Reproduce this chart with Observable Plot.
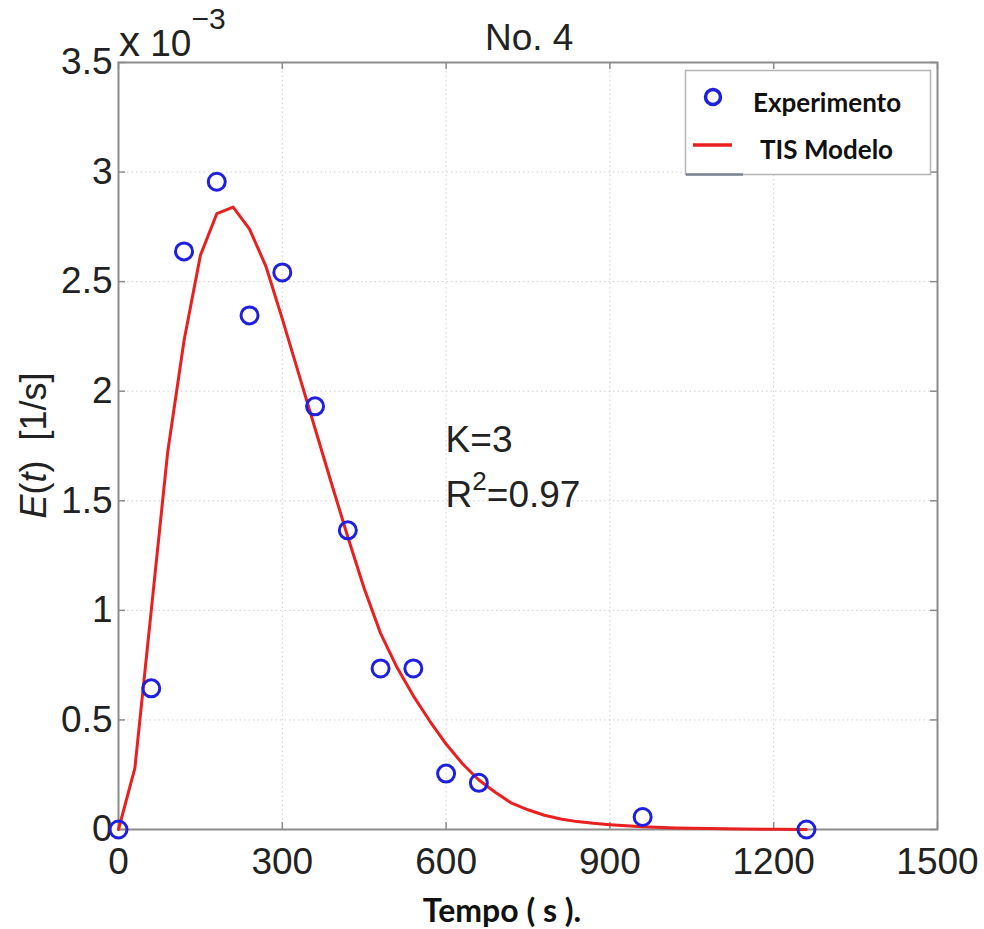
<!DOCTYPE html>
<html><head><meta charset="utf-8">
<script src="https://cdn.jsdelivr.net/npm/d3@7"></script>
<script src="https://cdn.jsdelivr.net/npm/@observablehq/plot@0.6"></script>
<style>body{margin:0;background:#fff}</style>
</head><body><div id="chart"></div>
<script>
// Experimental points (time in s, E(t) in units of 1e-3 1/s)
const expTime = [0, 60, 120, 180, 240, 300, 360, 420, 480, 540, 600, 660, 960, 1260];
const expE = [0, 0.644, 2.638, 2.956, 2.346, 2.542, 1.931, 1.365, 0.735, 0.735, 0.255, 0.213, 0.057, 0];
// TIS model curve
const modelTime = [0, 30, 60, 90, 120, 150, 180, 210, 240, 270, 300, 330, 360, 390, 420, 450, 480, 510, 540, 570, 600, 630, 660, 690, 720, 750, 780, 810, 840, 870, 900, 960, 1020, 1080, 1140, 1200, 1260];
const modelE = [0, 0.28, 1.0, 1.72, 2.23, 2.62, 2.81, 2.84, 2.74, 2.57, 2.33, 2.08, 1.83, 1.58, 1.335, 1.10, 0.895, 0.74, 0.61, 0.495, 0.39, 0.30, 0.226, 0.17, 0.12, 0.09, 0.065, 0.048, 0.036, 0.028, 0.022, 0.013, 0.007, 0.004, 0.002, 0.001, 0];
const xTicks = [0, 300, 600, 900, 1200, 1500];
const yTicks = [0, 0.5, 1, 1.5, 2, 2.5, 3, 3.5];
const seriesNames = ["Experimento", "TIS Modelo"];
const titleText = "No. 4";
const xLabel = "Tempo ( s ).";
const annotK = "K=3";
const annotR2 = "0.97";

const expData = expTime.map((t, i) => ({t, e: expE[i]}));
const modelData = modelTime.map((t, i) => ({t, e: modelE[i]}));

const W = 984, H = 929, mL = 118, mR = 47, mT = 62, mB = 100;
const plotH = H - mT - mB, plotW = W - mL - mR;
const FONT = "'Liberation Sans', Arial, Helvetica, sans-serif";
const BOLDF = "Lato, 'Open Sans', sans-serif";
const BLUE = "#1f1fe0", RED = "#e8201f", AXC = "#8c8c8c", TXT = "#222222";

const chart = Plot.plot({
  width: W, height: H,
  marginLeft: mL, marginRight: mR, marginTop: mT, marginBottom: mB,
  style: {fontFamily: FONT, fontSize: "37px", color: TXT, background: "#fff"},
  x: {domain: [0, 1500]},
  y: {domain: [0, 3.5]},
  marks: [
    Plot.gridX(xTicks, {stroke: "#d0d0d0", strokeOpacity: 1, strokeDasharray: "1.5,3"}),
    Plot.gridY(yTicks, {stroke: "#d0d0d0", strokeOpacity: 1, strokeDasharray: "1.5,3"}),
    Plot.frame({stroke: AXC, strokeWidth: 2}),
    Plot.tickX(xTicks, {x: d => d, insetTop: plotH - 7, stroke: AXC, strokeWidth: 1.5}),
    Plot.tickX(xTicks, {x: d => d, insetBottom: plotH - 7, stroke: AXC, strokeWidth: 1.5}),
    Plot.tickY(yTicks, {y: d => d, insetRight: plotW - 7, stroke: AXC, strokeWidth: 1.5}),
    Plot.tickY(yTicks, {y: d => d, insetLeft: plotW - 7, stroke: AXC, strokeWidth: 1.5}),
    Plot.axisX(xTicks, {anchor: "bottom", tickSize: 0, tickPadding: 18, tickFormat: d => String(d), label: null, fontSize: 37, fill: TXT}),
    Plot.axisY(yTicks, {anchor: "left", tickSize: 0, tickPadding: 6, tickFormat: d => String(d), label: null, fontSize: 37, fill: TXT}),
    Plot.line(modelData, {x: "t", y: "e", stroke: RED, strokeWidth: 3}),
    Plot.dot(expData, {x: "t", y: "e", r: 8.5, stroke: BLUE, strokeWidth: 3, fill: "none"})
  ]
});
document.getElementById("chart").appendChild(chart);

const svg = d3.select(chart);
const sx = chart.scale("x"), sy = chart.scale("y");

// Title
svg.append("text").attr("x", mL + plotW * 0.502).attr("y", 50).attr("text-anchor", "middle")
  .attr("font-family", FONT).attr("font-size", 37).attr("fill", TXT).text(titleText);

// Exponent label x 10^-3
const ex = svg.append("text").attr("x", mL + 1).attr("y", 56).attr("text-anchor", "start")
  .attr("font-family", FONT).attr("fill", TXT).attr("font-size", 37);
ex.append("tspan").attr("font-size", 42).text("x");
ex.append("tspan").text(" 10");
ex.append("tspan").attr("dy", -27).attr("font-size", 30).text("\u22123");

// Y label
const yl = svg.append("text").attr("transform", `translate(46,${mT + plotH * 0.5}) rotate(-90)`)
  .attr("text-anchor", "middle").attr("font-family", FONT).attr("font-size", 36).attr("fill", TXT);
yl.append("tspan").attr("font-style", "italic").text("E");
yl.append("tspan").text("(");
yl.append("tspan").attr("font-style", "italic").text("t");
yl.append("tspan").text(")\u00a0\u00a0[1/s]");

// X label
svg.append("text").attr("x", 502).attr("y", 922).attr("text-anchor", "middle")
  .attr("font-family", BOLDF).attr("font-weight", "bold").attr("font-size", 32).attr("fill", "#111").text(xLabel);

// Annotations
svg.append("text").attr("x", sx.apply(600)).attr("y", sy.apply(1.72)).attr("text-anchor", "start")
  .attr("font-family", FONT).attr("font-size", 37).attr("fill", TXT).text(annotK);
const r2 = svg.append("text").attr("x", sx.apply(600)).attr("y", sy.apply(1.47)).attr("text-anchor", "start")
  .attr("font-family", FONT).attr("font-size", 37).attr("fill", TXT);
r2.append("tspan").text("R");
r2.append("tspan").attr("dy", -17).attr("font-size", 26).text("2");
r2.append("tspan").attr("dy", 17).text("=" + annotR2);

// Legend
const lg = svg.append("g");
lg.append("rect").attr("x", 685.5).attr("y", 70.5).attr("width", 245).attr("height", 104)
  .attr("fill", "#fff").attr("stroke", "#b5b5b5").attr("stroke-width", 1.5);
lg.append("line").attr("x1", 686).attr("x2", 743).attr("y1", 174.5).attr("y2", 174.5).attr("stroke", "#7a8290").attr("stroke-width", 2.5);
lg.append("circle").attr("cx", 713).attr("cy", 97).attr("r", 7.5).attr("fill", "none").attr("stroke", BLUE).attr("stroke-width", 3.5);
lg.append("line").attr("x1", 693).attr("x2", 732).attr("y1", 145).attr("y2", 145).attr("stroke", RED).attr("stroke-width", 3.5);
lg.append("text").attr("x", 753).attr("y", 112).attr("text-anchor", "start").attr("font-family", BOLDF).attr("font-weight", "bold").attr("font-size", 26).attr("fill", "#111").text(seriesNames[0]);
lg.append("text").attr("x", 760).attr("y", 159).attr("text-anchor", "start").attr("font-family", BOLDF).attr("font-weight", "bold").attr("font-size", 26).attr("fill", "#111").text(seriesNames[1]);
</script></body></html>
